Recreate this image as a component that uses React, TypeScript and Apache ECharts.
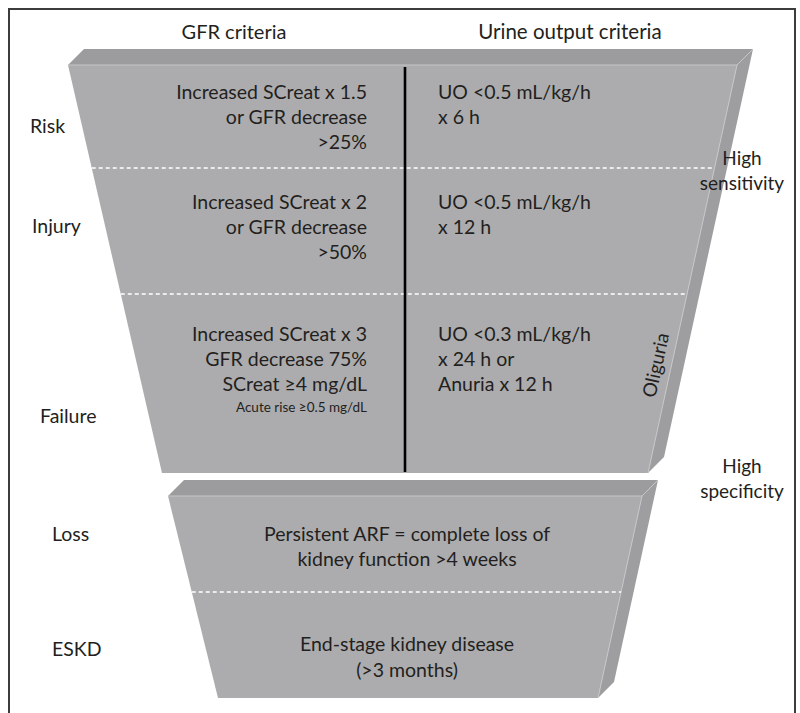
import React, { useEffect, useRef } from "react";
import * as echarts from "echarts";

// ---- content ----
const headers = ["GFR criteria", "Urine output criteria"];
const stages = ["Risk", "Injury", "Failure", "Loss", "ESKD"];
const gfrRisk = ["Increased SCreat x 1.5", "or GFR decrease", ">25%"];
const gfrInjury = ["Increased SCreat x 2", "or GFR decrease", ">50%"];
const gfrFailure = ["Increased SCreat x 3", "GFR decrease 75%", "SCreat \u22654 mg/dL"];
const gfrFailureNote = "Acute rise \u22650.5 mg/dL";
const uoRisk = ["UO <0.5 mL/kg/h", "x 6 h"];
const uoInjury = ["UO <0.5 mL/kg/h", "x 12 h"];
const uoFailure = ["UO <0.3 mL/kg/h", "x 24 h or", "Anuria x 12 h"];
const lossText = ["Persistent ARF = complete loss of", "kidney function >4 weeks"];
const eskdText = ["End-stage kidney disease", "(>3 months)"];
const sensitivityLabel = ["High", "sensitivity"];
const specificityLabel = ["High", "specificity"];
const oliguriaLabel = "Oliguria";

const FONT = "Lato, 'Open Sans', sans-serif";
const TXT = "#231f20";
const FRONT = "#acacae";
const TOP = "#9c9c9e";
const SIDE = "#9e9ea0";
const EDGE = "#c6c6c8";

export default function App() {
  const ref = useRef<HTMLDivElement>(null);
  useEffect(() => {
    if (!ref.current) return;
    document.body.style.margin = "0";
    const chart = echarts.init(ref.current, undefined, { renderer: "svg" });

    const els: any[] = [];
    const D = 16; // 3D depth offset
    const poly = (pts: number[][], fill: string) =>
      els.push({ type: "polygon", shape: { points: pts }, style: { fill }, silent: true });
    const line = (x1: number, y1: number, x2: number, y2: number, style: any) =>
      els.push({ type: "line", shape: { x1, y1, x2, y2 }, style, silent: true });
    const text = (t: string, x: number, y: number, align: string, size = 19.5, extra: any = {}) =>
      els.push({
        type: "text",
        x,
        y,
        ...extra,
        style: { text: t, fill: TXT, fontSize: size, fontFamily: FONT, textAlign: align, textVerticalAlign: "middle" },
        silent: true,
      });

    // block geometry
    const U = { t: 65, b: 473, tl: 68, tr: 737, bl: 162, br: 648 };
    const L = { t: 496, b: 698, tl: 168, tr: 642, bl: 218, br: 598 };
    const edgeX = (g: any, y: number, side: "l" | "r") => {
      const f = (y - g.t) / (g.b - g.t);
      return side === "l" ? g.tl + (g.bl - g.tl) * f : g.tr + (g.br - g.tr) * f;
    };
    const block = (g: any) => {
      poly([[g.tl, g.t], [g.tl + D, g.t - D], [g.tr + D, g.t - D], [g.tr, g.t]], TOP);
      poly([[g.tr, g.t], [g.tr + D, g.t - D], [g.br + D, g.b - D], [g.br, g.b]], SIDE);
      poly([[g.tl, g.t], [g.tr, g.t], [g.br, g.b], [g.bl, g.b]], FRONT);
      line(g.tl, g.t, g.tr, g.t, { stroke: EDGE, lineWidth: 1 });
      line(g.tr, g.t, g.br, g.b, { stroke: EDGE, lineWidth: 1 });
      line(g.tr, g.t, g.tr + D, g.t - D, { stroke: EDGE, lineWidth: 1 });
    };
    block(U);
    block(L);

    const dash = (g: any, y: number) =>
      line(edgeX(g, y, "l"), y, edgeX(g, y, "r"), y, { stroke: "#ffffff", lineWidth: 1.3, lineDash: [4, 3] });
    dash(U, 168);
    dash(U, 294);
    dash(L, 592);

    // divider
    line(405, 67, 405, 472, { stroke: "#000000", lineWidth: 2.6 });

    // border
    els.push({
      type: "rect",
      shape: { x: 9, y: 9, width: 786, height: 730 },
      style: { fill: "none", stroke: "#3c3c3c", lineWidth: 2 },
      silent: true,
    });

    // headers
    text(headers[0], 234, 31, "center", 20);
    text(headers[1], 570, 31, "center", 20.5);

    // stage labels
    const stageX = [30, 32, 40, 52, 52];
    const stageY = [125, 225, 415, 533, 648];
    stages.forEach((s, i) => text(s, stageX[i], stageY[i], "left", 19.5));

    // GFR column (right aligned)
    const GX = 367;
    const lh = 25;
    gfrRisk.forEach((t, i) => text(t, GX, 91 + i * lh, "right"));
    gfrInjury.forEach((t, i) => text(t, GX, 201 + i * lh, "right"));
    gfrFailure.forEach((t, i) => text(t, GX, 333 + i * lh, "right"));
    text(gfrFailureNote, GX, 407, "right", 13.5);

    // UO column (left aligned)
    const UX = 438;
    uoRisk.forEach((t, i) => text(t, UX, 91 + i * lh, "left"));
    uoInjury.forEach((t, i) => text(t, UX, 201 + i * lh, "left"));
    uoFailure.forEach((t, i) => text(t, UX, 333 + i * lh, "left"));

    // lower block texts
    lossText.forEach((t, i) => text(t, 407, 533 + i * lh, "center"));
    eskdText.forEach((t, i) => text(t, 407, 643 + i * 26, "center"));

    // right side labels
    sensitivityLabel.forEach((t, i) => text(t, 742, 157 + i * 25, "center", 19));
    specificityLabel.forEach((t, i) => text(t, 742, 465 + i * 25, "center", 19));

    // Oliguria rotated along the edge
    text(oliguriaLabel, 655, 365, "center", 19, { rotation: Math.PI / 2 - Math.atan(0.218) });

    chart.setOption({
      animation: false,
      backgroundColor: "#ffffff",
      graphic: { elements: els },
    });
    return () => chart.dispose();
  }, []);
  return <div ref={ref} style={{ position: "fixed", left: 0, top: 0, width: 800, height: 713 }} />;
}
